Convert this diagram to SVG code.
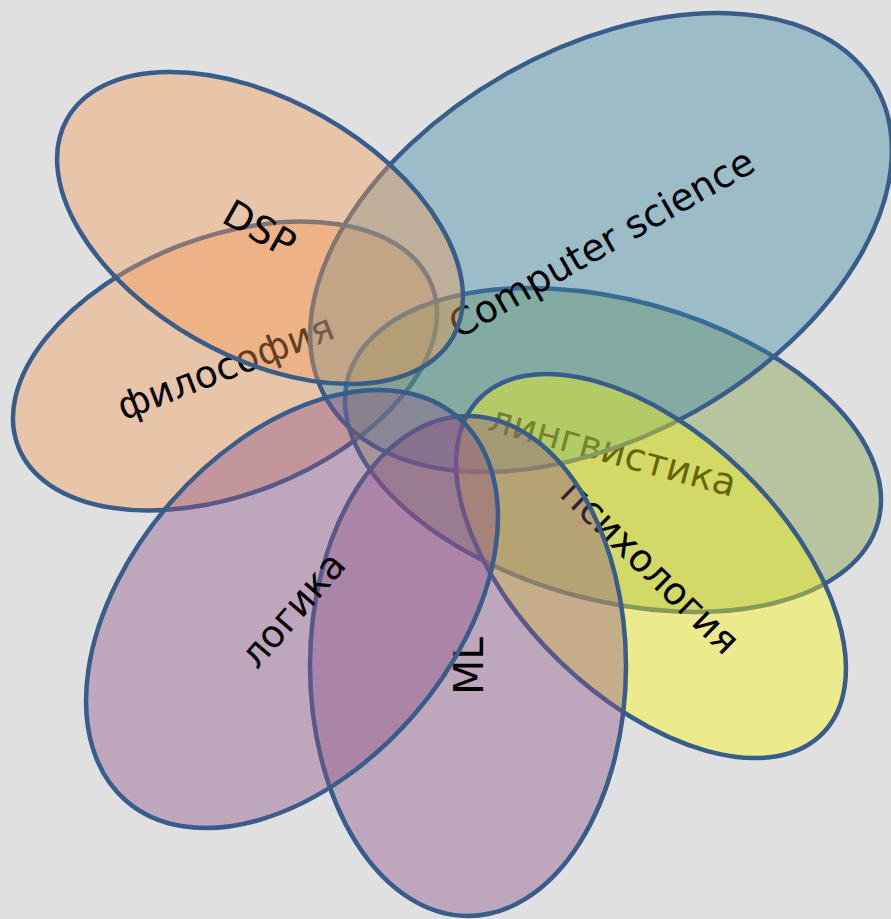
<svg xmlns="http://www.w3.org/2000/svg" width="891" height="919" viewBox="0 0 891 919">
<style>
.shape{stroke:#385d8a;stroke-width:4.5;fill-opacity:0.4}
.orange{fill:#f69c54}
.blue{fill:#3888a4}
.green{fill:#7c9a40}
.yellow{fill:#fcfa10}
.purple{fill:#8d5286}
.label{font-family:"DejaVu Sans","Liberation Sans",sans-serif;font-size:38px;text-anchor:middle;fill:#000}
.big{font-size:41px}
</style>
<rect width="891" height="919" fill="#e0e0e0"/>
<g id="filosofiya" transform="translate(225,366) rotate(-21.3)">
<ellipse class="shape orange" cx="0" cy="0" rx="222" ry="128.6"/>
<text class="label" x="0" y="14">философия</text>
</g>
<g id="lingvistika" transform="translate(613,450) rotate(15.2)">
<ellipse class="shape green" cx="0" cy="0" rx="274.7" ry="150.3"/>
<text class="label" x="0" y="14">лингвистика</text>
</g>
<g id="computer-science" transform="translate(601,242.5) rotate(-29.6)">
<ellipse class="shape blue" cx="0" cy="0" rx="316" ry="193.4"/>
<text class="label" x="0" y="14">Computer science</text>
</g>
<g id="psihologiya" transform="translate(651,566) rotate(44.2)">
<ellipse class="shape yellow" cx="0" cy="0" rx="239.7" ry="132"/>
<text class="label" x="0" y="14">психология</text>
</g>
<g id="ml" transform="translate(468,666) rotate(-90)">
<ellipse class="shape purple" cx="0" cy="0" rx="250" ry="158"/>
<text class="label big" x="0" y="15">ML</text>
</g>
<g id="logika" transform="translate(292,609) rotate(-49.2)">
<ellipse class="shape purple" cx="0" cy="0" rx="253.6" ry="161.5"/>
<text class="label" x="0" y="14">логика</text>
</g>
<g id="dsp" transform="translate(260,228) rotate(29.5)">
<ellipse class="shape orange" cx="0" cy="0" rx="221.6" ry="128.2"/>
<text class="label" x="0" y="14">DSP</text>
</g>
<g id="connectors"/>
</svg>
